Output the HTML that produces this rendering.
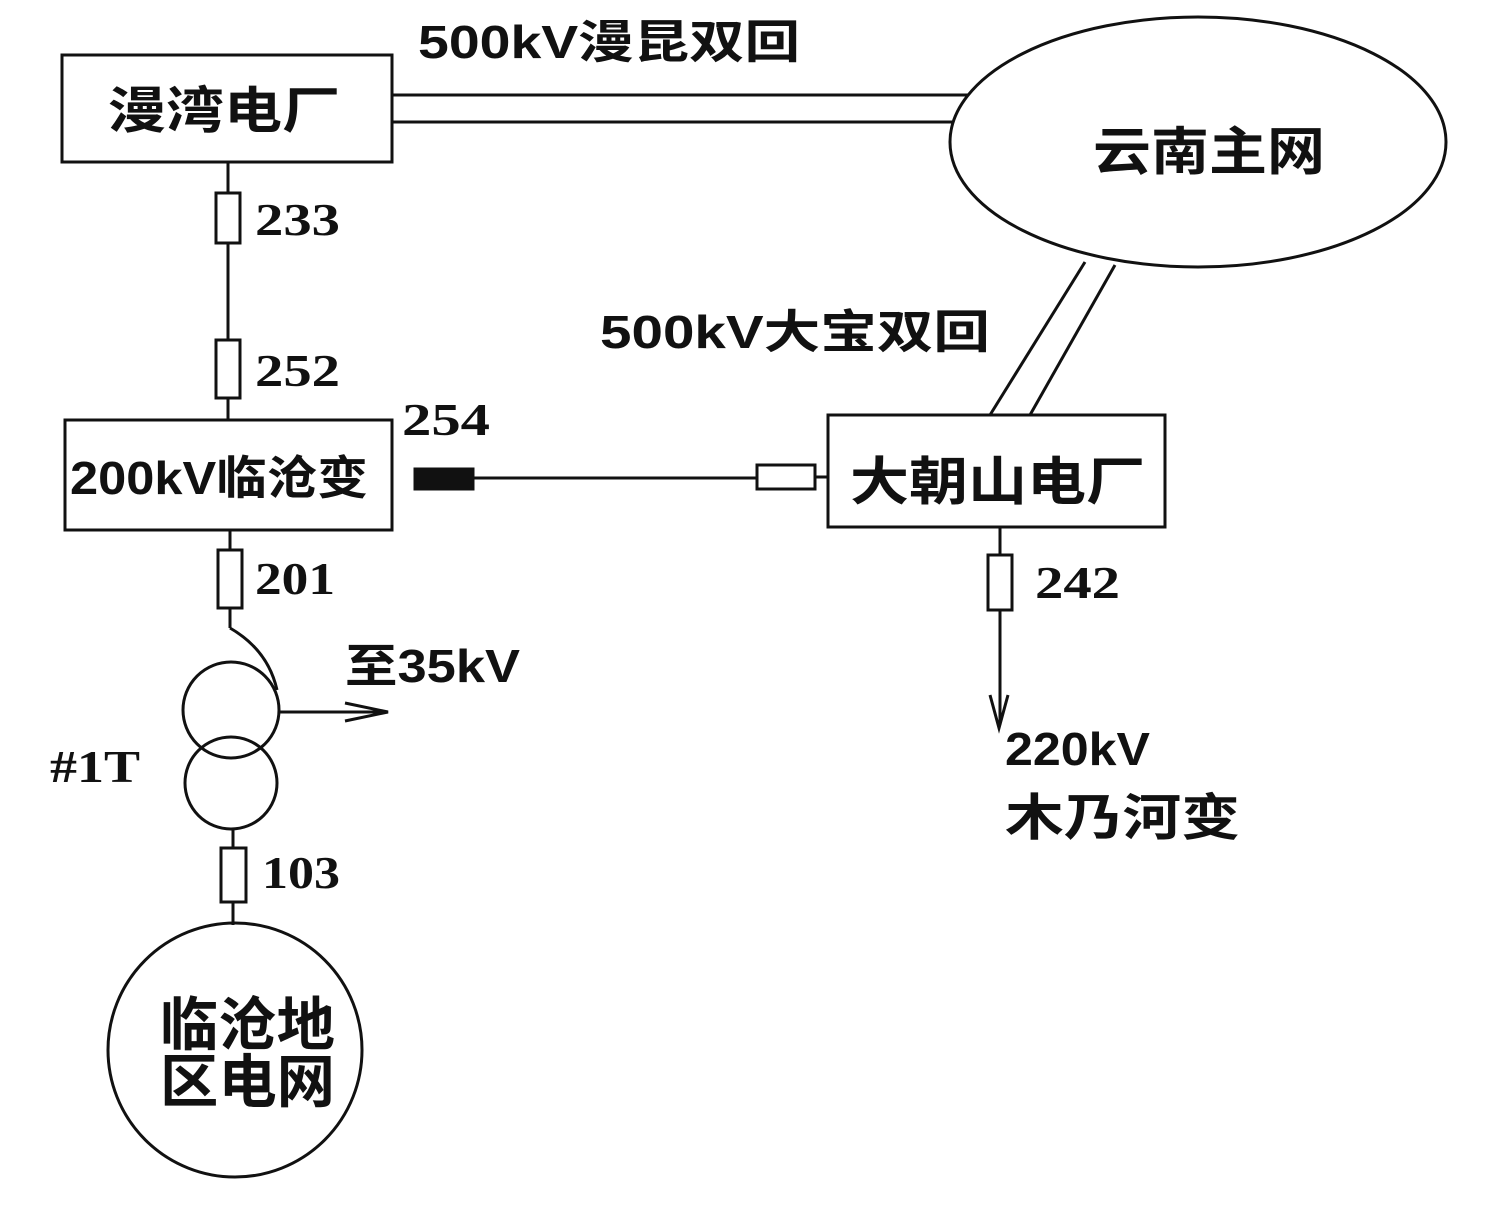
<!DOCTYPE html>
<html><head><meta charset="utf-8"><style>
html,body{margin:0;padding:0;background:#fff}
svg text{font-family:"Liberation Serif","Noto Sans CJK SC",serif;fill:#111}
.c{font-family:"Liberation Sans","Noto Sans CJK SC",sans-serif}
</style></head><body>
<svg width="1500" height="1200" viewBox="0 0 1500 1200" xmlns="http://www.w3.org/2000/svg">
<g stroke="#111" stroke-width="3" fill="none">
<rect x="62" y="55" width="330" height="107"/>
<line x1="392" y1="95" x2="968" y2="95"/>
<line x1="392" y1="122" x2="952" y2="122"/>
<ellipse cx="1198" cy="142" rx="248" ry="125"/>
<line x1="1085" y1="262" x2="990" y2="415"/>
<line x1="1115" y1="265" x2="1030" y2="415"/>
<line x1="228" y1="162" x2="228" y2="420"/>
<rect x="216" y="193" width="24" height="50" fill="#fff"/>
<rect x="216" y="340" width="24" height="58" fill="#fff"/>
<rect x="65" y="420" width="327" height="110"/>
<rect x="415" y="469" width="58" height="20" fill="#111"/>
<line x1="473" y1="478" x2="757" y2="478"/>
<rect x="757" y="465" width="58" height="24" fill="#fff"/>
<line x1="815" y1="477" x2="828" y2="477"/>
<rect x="828" y="415" width="337" height="112"/>
<line x1="1000" y1="527" x2="1000" y2="725"/>
<rect x="988" y="555" width="24" height="55" fill="#fff"/>
<path d="M990 695 L999 728 L1008 695"/>
<line x1="230" y1="530" x2="230" y2="628"/>
<rect x="218" y="550" width="24" height="58" fill="#fff"/>
<path d="M230 628 Q268 650 277 690"/>
<circle cx="231" cy="710" r="48"/>
<circle cx="231" cy="783" r="46"/>
<line x1="280" y1="712" x2="385" y2="712"/>
<path d="M345 703 L388 712 L345 721"/>
<line x1="233" y1="829" x2="233" y2="925"/>
<rect x="221" y="848" width="25" height="54" fill="#fff"/>
<circle cx="235" cy="1050" r="127"/>
</g>
<g font-weight="bold" lengthAdjust="spacingAndGlyphs">
<text class="c" x="108" y="128" font-size="50" textLength="232" lengthAdjust="spacingAndGlyphs">漫湾电厂</text>
<text class="c" x="418" y="58" font-size="46" textLength="382" lengthAdjust="spacingAndGlyphs">500kV漫昆双回</text>
<text class="c" x="1093" y="170" font-size="52" textLength="232" lengthAdjust="spacingAndGlyphs">云南主网</text>
<text class="c" x="600" y="348" font-size="46" textLength="390" lengthAdjust="spacingAndGlyphs">500kV大宝双回</text>
<text x="255" y="235" font-size="46" textLength="85" lengthAdjust="spacingAndGlyphs">233</text>
<text x="255" y="386" font-size="46" textLength="85" lengthAdjust="spacingAndGlyphs">252</text>
<text x="402" y="435" font-size="46" textLength="88" lengthAdjust="spacingAndGlyphs">254</text>
<text class="c" x="70" y="494" font-size="46" textLength="298" lengthAdjust="spacingAndGlyphs">200kV临沧变</text>
<text class="c" x="850" y="500" font-size="52" textLength="295" lengthAdjust="spacingAndGlyphs">大朝山电厂</text>
<text x="1035" y="598" font-size="46" textLength="85" lengthAdjust="spacingAndGlyphs">242</text>
<text x="255" y="594" font-size="46" textLength="80" lengthAdjust="spacingAndGlyphs">201</text>
<text class="c" x="345" y="682" font-size="46" textLength="175" lengthAdjust="spacingAndGlyphs">至35kV</text>
<text x="50" y="782" font-size="46" textLength="90" lengthAdjust="spacingAndGlyphs">#1T</text>
<text x="262" y="888" font-size="46" textLength="78" lengthAdjust="spacingAndGlyphs">103</text>
<text class="c" x="1005" y="765" font-size="46" textLength="145" lengthAdjust="spacingAndGlyphs">220kV</text>
<text class="c" x="1005" y="835" font-size="50" textLength="235" lengthAdjust="spacingAndGlyphs">木乃河变</text>
<text class="c" x="160" y="1045" font-size="58" textLength="175" lengthAdjust="spacingAndGlyphs">临沧地</text>
<text class="c" x="160" y="1102" font-size="58" textLength="175" lengthAdjust="spacingAndGlyphs">区电网</text>
</g>
</svg>
</body></html>
